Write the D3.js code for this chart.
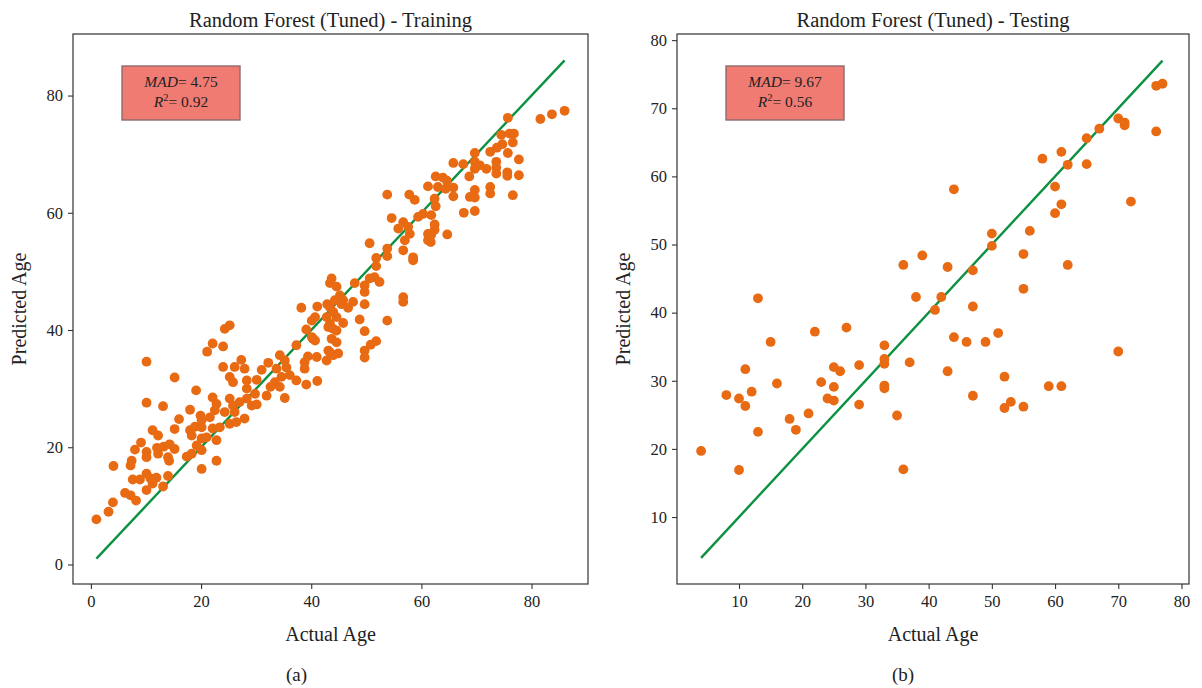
<!DOCTYPE html>
<html>
<head>
<meta charset="utf-8">
<script src="https://cdn.jsdelivr.net/npm/d3@7"></script>
<style>
  html, body { margin: 0; padding: 0; background: #fff; }
  svg text { font-family: "Liberation Serif", "DejaVu Serif", serif; fill: #222; }
</style>
</head>
<body>
<div id="stage"></div>
<script>
// Training set: [actual age, predicted age]
const trainPairs = [
    [1,7.7],[3.2,9.0],[4,10.6],[4.1,16.8],[10.1,34.6],[15.2,31.9],[10.1,27.6],[13.1,27.0],[19.1,29.7],[21.1,36.3],
    [22.1,37.7],[22.1,28.5],[18,26.4],[16,24.8],[15.2,23.1],[11.2,22.9],[12.2,22.0],[9.1,20.8],[8,19.6],[10.1,19.2],
    [10.1,18.3],[7.4,17.7],[7.2,16.9],[12,19.9],[13.2,20.1],[14.3,20.5],[15.2,19.7],[14,18.3],[14.2,17.7],[12.2,18.9],
    [10.1,15.5],[7.6,14.5],[8.9,14.5],[10.8,14.7],[11.9,14.8],[11.2,13.8],[10.1,12.7],[14,15.1],[13.1,13.3],[6.2,12.2],
    [7.2,11.8],[8.2,10.9],[17.4,18.4],[18.3,18.9],[19.2,20.3],[20.1,21.5],[20.1,16.3],[20.1,19.5],[18,22.9],[18.9,23.5],
    [19.9,25.4],[20.1,24.6],[18.3,22.0],[22.1,23.2],[22.8,21.2],[22.8,17.7],[22.5,26.3],
    [38.2,43.8],[41.1,44.0],[42.9,44.4],[40.7,42.2],[40.1,41.6],[39.1,40.1],[40.3,38.5],[40.7,38.2],[43.1,40.5],[43.1,36.5],
    [41,35.4],[39.4,35.5],[37.3,37.4],[24.3,40.2],[25.2,40.8],[24,37.2],[24,33.7],[27.3,34.9],[26.1,33.7],[27.9,33.4],
    [25.2,32.0],[25.8,31.1],[28.3,31.4],[30.1,31.5],[28.3,30.0],[31,33.2],[32.2,34.4],[34.3,35.7],[35.2,34.8],[35.5,33.6],
    [33.7,33.4],[34.6,32.0],[36.1,32.3],[37.3,31.4],[39.1,30.7],[41.1,31.3],[33.4,31.1],[32.6,30.3],[34.3,30.3],[31.9,28.8],
    [35.2,28.4],[29.8,29.1],[28.3,28.3],[27,27.7],[29.2,27.1],[30.1,27.3],[22.8,27.4],[25.2,28.3],[25.8,27.1],[26.1,26.0],
    [24.3,26.0],[21.6,25.1],[25.2,24.0],[27.9,24.9],[26.4,24.3],[23.4,23.4],[20.1,23.4],[21,21.7],
    [53.8,63.1],[57.8,63.1],[58.8,62.2],[61.2,64.5],[60.3,59.8],[59.4,59.3],[54.6,59.1],[56.7,58.4],[55.8,57.3],[57.6,57.6],
    [57.9,56.4],[57,55.3],[56.7,53.6],[58.5,52.4],[58.5,51.9],[61.2,56.4],[61.2,55.3],[53.8,53.9],[53.8,52.6],[50.6,54.8],
    [51.8,52.3],[51.8,50.9],[51.5,49.0],[50.6,48.8],[52.4,48.2],[49.7,47.6],[49.7,46.5],[47.9,48.0],[43.7,48.8],[43.4,48.0],
    [44.6,47.4],[45.2,45.9],[45.8,45.1],[44.3,45.1],[43.4,43.9],[44,43.1],[45.5,44.4],[46.7,43.8],[47.6,44.8],[49.7,44.4],
    [56.7,45.6],[56.7,44.8],[53.8,41.6],[48.8,41.8],[49.7,39.8],[51.8,38.1],[50.8,37.5],[49.7,36.5],[49.7,35.3],[45.8,41.2],
    [44.6,42.2],[43.4,41.1],[44,40.2],[44.6,39.9],[43.7,38.5],[44.6,37.9],[43.4,36.2],[44,35.7],[44.9,36.0],[42.8,34.8],
    [40.1,38.8],[38.8,34.5],[38.8,33.4],[42.8,42.2],
    [81.6,76.0],[83.7,76.8],[86,77.4],[75.7,76.2],[74.5,73.3],[76,73.5],[76.8,73.5],[76.6,72.0],[74.7,71.7],[73.7,71.1],
    [75.7,70.2],[72.5,70.4],[69.7,70.2],[77.7,69.1],[73.6,68.7],[73.6,67.7],[73.6,66.7],[75.6,66.9],[75.6,66.3],[77.7,66.4],
    [69.7,68.7],[70.6,68.1],[71.8,67.5],[69.7,67.5],[67.6,68.3],[65.8,68.5],[68.7,66.2],[69.7,63.9],[68.8,62.7],[69.7,62.6],
    [72.5,64.4],[72.5,63.3],[76.6,63.0],[67.7,60.0],[69.7,60.3],[62.6,66.2],[63.9,66.0],[64.6,65.5],[63,64.4],[64.4,64.1],
    [65.8,64.3],[65.8,62.8],[62.4,62.4],[62.6,61.1],[61.8,59.6],[62.4,58.0],[62.4,57.1],[61.8,56.3],[61.7,55.0],[64.7,56.3]
];

// Testing set: [actual age, predicted age]
const testPairs = [
    [13,42.1],[36,47.0],[38,42.3],[42,42.3],[41,40.4],[43,46.7],[22,37.2],[27,37.8],[15,35.7],[33,35.2],
    [11,31.7],[25,32.0],[26,31.4],[29,32.3],[33,33.2],[33,32.5],[37,32.7],[43,31.4],[16,29.6],[23,29.8],
    [25,29.1],[33,29.3],[33,28.9],[8,27.9],[10,27.4],[12,28.4],[11,26.3],[24,27.4],[25,27.1],[29,26.5],
    [18,24.4],[21,25.2],[19,22.8],[13,22.5],[35,24.9],[4,19.7],[10,16.9],[36,17.0],
    [76,73.3],[77,73.6],[70,68.5],[71,67.9],[71,67.5],[76,66.6],[67,67.0],[65,65.6],[58,62.6],[61,63.6],
    [62,61.7],[65,61.8],[44,58.1],[60,58.5],[61,55.9],[60,54.6],[72,56.3],[50,51.6],[50,49.8],[56,52.0],
    [39,48.4],[55,48.6],[62,47.0],[47,46.2],[55,43.5],[47,40.9],[44,36.4],[46,35.7],[49,35.7],[51,37.0],
    [70,34.3],[52,30.6],[59,29.2],[61,29.2],[47,27.8],[53,26.9],[52,26.0],[55,26.2]
];

const trainTicks = [0, 20, 40, 60, 80];
const testTicks = [10, 20, 30, 40, 50, 60, 70, 80];
const titles = ['Random Forest (Tuned) - Training', 'Random Forest (Tuned) - Testing'];
const panelTags = ['(a)', '(b)'];
const mad = [4.75, 9.67];
const r2 = [0.92, 0.56];

const width = 1202;
const height = 688;
const pointColor = '#e86a12';
const lineColor = '#0b9140';

const svg = d3.select('#stage')
    .append('svg')
    .attr('width', width)
    .attr('height', height)
    .attr('viewBox', [0, 0, width, height]);

const panels = [
    {pairs: trainPairs, ticks: trainTicks, left: 73, right: 588, xDom: [-3.25, 90.25], yDom: [-3.33, 90.5], tagShift: -34},
    {pairs: testPairs, ticks: testTicks, left: 677, right: 1189, xDom: [0.19, 81.19], yDom: [0.17, 80.9], tagShift: -30}
];
const plotTop = 34, plotBottom = 584;

panels.forEach((p, i) => {
    const x = d3.scaleLinear().domain(p.xDom).range([p.left, p.right]);
    const y = d3.scaleLinear().domain(p.yDom).range([plotBottom, plotTop]);
    const cx = (p.left + p.right) / 2;
    const g = svg.append('g');

    // frame
    g.append('rect')
        .attr('x', p.left).attr('y', plotTop)
        .attr('width', p.right - p.left).attr('height', plotBottom - plotTop)
        .attr('fill', 'none').attr('stroke', '#333').attr('stroke-width', 1.2);

    // axes
    const xAxis = g.append('g')
        .attr('transform', `translate(0,${plotBottom})`)
        .call(d3.axisBottom(x).tickValues(p.ticks).tickSize(5).tickPadding(6));
    const yAxis = g.append('g')
        .attr('transform', `translate(${p.left},0)`)
        .call(d3.axisLeft(y).tickValues(p.ticks).tickSize(5).tickPadding(5));
    [xAxis, yAxis].forEach(a => {
        a.select('.domain').remove();
        a.selectAll('line').attr('stroke', '#333').attr('stroke-width', 1.1);
        a.selectAll('text').attr('font-size', 16.5).attr('fill', '#222')
            .attr('font-family', '"Liberation Serif", serif');
    });

    // identity line over the range of actual ages
    const ext = d3.extent(p.pairs, d => d[0]);
    g.append('line')
        .attr('x1', x(ext[0])).attr('y1', y(ext[0]))
        .attr('x2', x(ext[1])).attr('y2', y(ext[1]))
        .attr('stroke', lineColor).attr('stroke-width', 2.4);

    // points
    g.append('g')
        .selectAll('circle')
        .data(p.pairs)
        .join('circle')
        .attr('cx', d => x(d[0]))
        .attr('cy', d => y(d[1]))
        .attr('r', 4.9)
        .attr('fill', pointColor);

    // metrics box
    const bx = p.left + 49, by = 66;
    g.append('rect')
        .attr('x', bx).attr('y', by).attr('width', 118).attr('height', 54)
        .attr('fill', '#f07b73').attr('stroke', '#8c6c6c').attr('stroke-width', 1.4);
    const t1 = g.append('text').attr('x', bx + 59).attr('y', by + 21)
        .attr('text-anchor', 'middle').attr('font-size', 15.5);
    t1.append('tspan').attr('font-style', 'italic').text('MAD');
    t1.append('tspan').text('= ' + mad[i].toFixed(2));
    const t2 = g.append('text').attr('x', bx + 59).attr('y', by + 41)
        .attr('text-anchor', 'middle').attr('font-size', 15.5);
    t2.append('tspan').attr('font-style', 'italic').text('R');
    t2.append('tspan').attr('dy', -6).attr('font-size', 10.5).text('2');
    t2.append('tspan').attr('dy', 6).text('= ' + r2[i].toFixed(2));

    // titles and labels
    g.append('text').attr('x', cx).attr('y', 27)
        .attr('text-anchor', 'middle').attr('font-size', 20.5).text(titles[i]);
    g.append('text').attr('x', cx).attr('y', 641)
        .attr('text-anchor', 'middle').attr('font-size', 20).text('Actual Age');
    g.append('text')
        .attr('transform', `translate(${p.left - 47},${(plotTop + plotBottom) / 2}) rotate(-90)`)
        .attr('text-anchor', 'middle').attr('font-size', 20).text('Predicted Age');
    g.append('text').attr('x', cx + p.tagShift).attr('y', 681)
        .attr('text-anchor', 'middle').attr('font-size', 19).text(panelTags[i]);
});
</script>
</body>
</html>
